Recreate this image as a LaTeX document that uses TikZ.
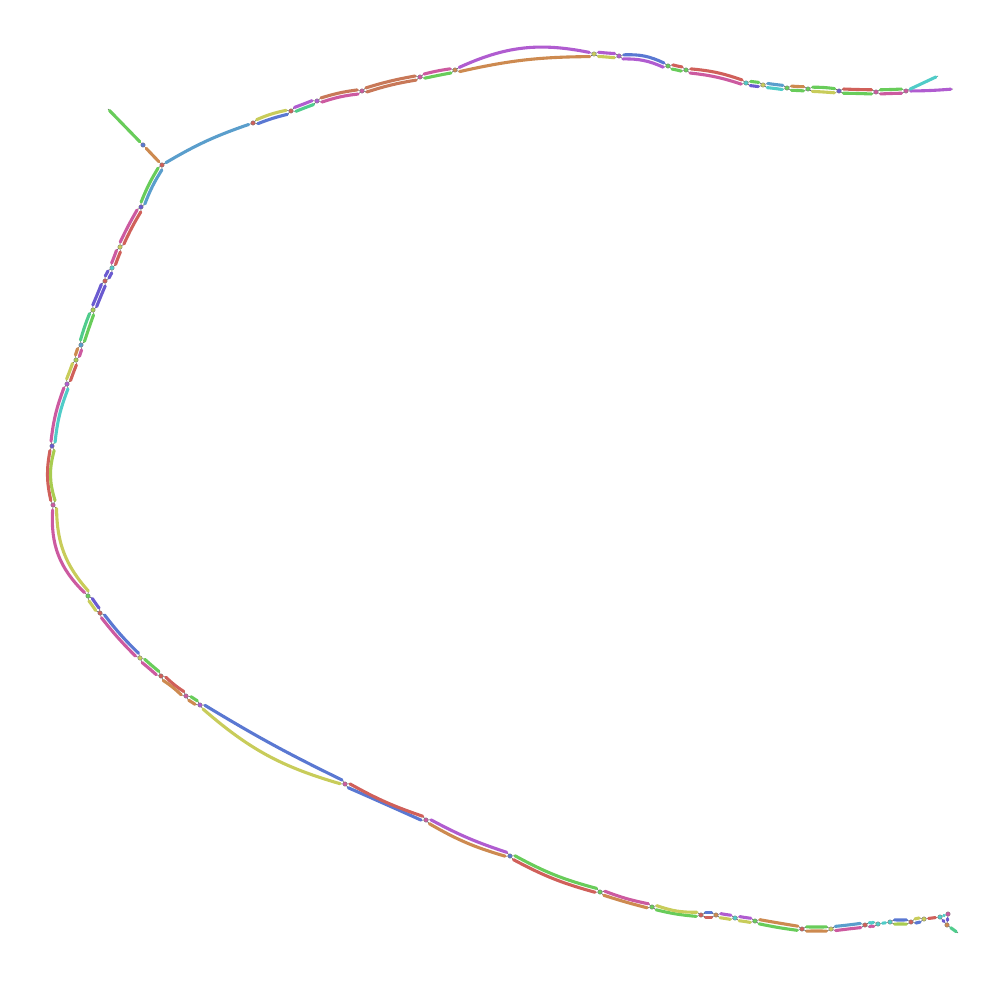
\documentclass[tikz,border=0pt]{standalone}
\usetikzlibrary{calc}
\definecolor{cR}{HTML}{D0605A}
\definecolor{cP}{HTML}{CC5AA0}
\definecolor{cM}{HTML}{B05CD0}
\definecolor{cV}{HTML}{6A5AD0}
\definecolor{cB}{HTML}{5A78D2}
\definecolor{cL}{HTML}{5A9ECC}
\definecolor{cC}{HTML}{50CCC8}
\definecolor{cT}{HTML}{50CC8C}
\definecolor{cG}{HTML}{68CC5A}
\definecolor{cY}{HTML}{C8CC5A}
\definecolor{cW}{HTML}{A8CC50}
\definecolor{cO}{HTML}{CD8A50}
\definecolor{cK}{HTML}{C87858}
\newdimen\bubdx \newdimen\bubdy
\newcommand\bubsetup[2]{%
 \pgfextractx{\bubdx}{\pgfpointdiff{\pgfpointanchor{#1}{center}}{\pgfpointanchor{#2}{center}}}%
 \pgfextracty{\bubdy}{\pgfpointdiff{\pgfpointanchor{#1}{center}}{\pgfpointanchor{#2}{center}}}%
 \pgfmathsetmacro\bubL{max(1,veclen(\bubdx,\bubdy))}}
\newcommand\bangle[3]{\pgfmathsetmacro#1{asin(max(-1,min(1,(#2)/(0.294*(\bubL-#3)))))}}
% one arc of a bubble: from, to, colour, end offset (right +), mid sag (right +)
\newcommand\barc[5]{%
 \bangle\angA{#5-(#4)}{9}%
 \coordinate (bs) at ($(#1)!4.5pt!(#2)!#4pt!-90:(#2)$);
 \coordinate (be) at ($(#2)!4.5pt!(#1)!#4pt!90:(#1)$);
 \draw[lead] (#1) -- (bs) (be) -- (#2);
 \draw[seg,#3] (bs) to[bend right=\angA] (be);}
\newcommand\bub[6]{%
 \bubsetup{#1}{#2}%
 \barc{#1}{#2}{#3}{2.1}{#5}%
 \barc{#1}{#2}{#4}{-2.1}{#6}}
\newcommand\one[4]{\bubsetup{#1}{#2}\bangle\angO{#4}{0}%
 \draw[lead] (#1) to[bend right=\angO] (#2);
 \draw[seg,#3,shorten <=2.2pt,shorten >=2.2pt] (#1) to[bend right=\angO] (#2);}
\begin{document}
\begin{tikzpicture}[x=1pt,y=-1pt,
  jn/.style={circle,inner sep=0pt,minimum size=4.5pt,draw=black!55,line width=0.3pt,fill=#1},
  seg/.style={line width=3.1pt,line cap=round},
  lead/.style={draw=black!70,line width=0.5pt}]
\useasboundingbox (0,0) rectangle (1006,981);
% junctions
\node[jn=cP] (n0) at (906,91) {};
\node[jn=cP] (n1) at (876,92) {};
\node[jn=cV] (n2) at (839,91) {};
\node[jn=cG] (n3) at (808,89) {};
\node[jn=cG] (n4) at (787,88) {};
\node[jn=cY] (n5) at (763,85) {};
\node[jn=cC] (n6) at (746,83) {};
\node[jn=cG] (n7) at (686,70) {};
\node[jn=cG] (n8) at (668,66) {};
\node[jn=cM] (n9) at (619,56) {};
\node[jn=cY] (n10) at (594,54) {};
\node[jn=cO] (n11) at (455,70) {};
\node[jn=cP] (n12) at (420,77) {};
\node[jn=cP] (n13) at (362,91) {};
\node[jn=cM] (n14) at (317,101) {};
\node[jn=cR] (n15) at (291,111) {};
\node[jn=cR] (n16) at (253,123) {};
\node[jn=cR] (n17) at (162,165) {};
\node[jn=cB] (nA) at (143,145) {};
\node[jn=cV] (n18) at (141,207) {};
\node[jn=cY] (n19) at (120,247) {};
\node[jn=cC] (n20) at (112,268) {};
\node[jn=cR] (n20b) at (105,281) {};
\node[jn=cW] (n21) at (93,310) {};
\node[jn=cL] (n22) at (81,345) {};
\node[jn=cW] (n23) at (76,360) {};
\node[jn=cM] (n24) at (67,384) {};
\node[jn=cV] (n25) at (52,446) {};
\node[jn=cP] (n26) at (53,505) {};
\node[jn=cG] (n27) at (88,596) {};
\node[jn=cR] (n28) at (100,613) {};
\node[jn=cY] (n29) at (140,658) {};
\node[jn=cR] (n30) at (161,676) {};
\node[jn=cP] (n31) at (186,696) {};
\node[jn=cM] (n32) at (200,705) {};
\node[jn=cP] (n33) at (345,784) {};
\node[jn=cP] (n34) at (426,820) {};
\node[jn=cB] (n35) at (510,856) {};
\node[jn=cG] (n36) at (600,892) {};
\node[jn=cG] (n37) at (652,907) {};
\node[jn=cR] (n38) at (701,915) {};
\node[jn=cO] (n39) at (716,915) {};
\node[jn=cC] (n40) at (735,918) {};
\node[jn=cG] (n41) at (755,921) {};
\node[jn=cR] (n42) at (802,929) {};
\node[jn=cY] (n43) at (831,929) {};
\node[jn=cR] (n44) at (865,925) {};
\node[jn=cC] (n45) at (878,924) {};
\node[jn=cC] (n46) at (890,922) {};
\node[jn=cR] (n47) at (911,922) {};
\node[jn=cY] (n48) at (924,919) {};
\node[jn=cC] (n49) at (940,917) {};
\node[jn=cP] (n50) at (948,914) {};
\node[jn=cO] (n51) at (947,925) {};
\coordinate (e1) at (953,89);
\coordinate (e2) at (938,76);
\coordinate (e3) at (108,109);
\coordinate (e4) at (958,933);
% tails
\one{n0}{e1}{cM}{0.5}
\one{n0}{e2}{cC}{0}
% top chain
\bub{n0}{n1}{cG}{cP}{2}{-2}
\bub{n1}{n2}{cR}{cG}{2}{-2}
\bub{n2}{n3}{cG}{cY}{2.5}{-2}
\bub{n3}{n4}{cO}{cG}{2}{-2}
\bub{n4}{n5}{cL}{cC}{2}{-2}
\bub{n5}{n6}{cG}{cV}{2}{-2}
\bub{n6}{n7}{cR}{cP}{4}{-0.5}
\bub{n7}{n8}{cR}{cG}{2}{-2}
\bub{n8}{n9}{cB}{cM}{5}{0.5}
\bub{n9}{n10}{cM}{cY}{2}{-2}
\bub{n10}{n11}{cM}{cO}{14}{2}
\bub{n11}{n12}{cP}{cG}{2.5}{-2}
\bub{n12}{n13}{cK}{cK}{3}{-1}
\bub{n13}{n14}{cK}{cP}{3}{-1}
\bub{n14}{n15}{cM}{cT}{2}{-2}
\bub{n15}{n16}{cY}{cB}{3}{-1.5}
\one{n16}{n17}{cL}{3}
\one{n17}{nA}{cO}{0}
\one{nA}{e3}{cG}{0}
% left side
\bub{n17}{n18}{cG}{cL}{3}{-1}
\bub{n18}{n19}{cP}{cR}{2.5}{-1.5}
\bub{n19}{n20}{cP}{cR}{2}{-2}
\bub{n20}{n20b}{cV}{cV}{2}{-2}
\bub{n20b}{n21}{cV}{cV}{2}{-2}
\bub{n21}{n22}{cT}{cG}{2.5}{-2}
\bub{n22}{n23}{cO}{cP}{2}{-2}
\bub{n23}{n24}{cY}{cR}{2}{-2}
\bub{n24}{n25}{cP}{cC}{4}{0}
\bub{n25}{n26}{cR}{cW}{5}{2}
\bub{n26}{n27}{cP}{cY}{13}{7}
\bub{n27}{n28}{cY}{cV}{2}{-2}
\bub{n28}{n29}{cP}{cB}{3}{-1}
\bub{n29}{n30}{cP}{cG}{2}{-2}
\bub{n30}{n31}{cO}{cR}{1.5}{-1.5}
\bub{n31}{n32}{cO}{cG}{2}{-2}
% bottom chain
\bub{n32}{n33}{cY}{cB}{12}{0}
\bub{n33}{n34}{cB}{cR}{2}{0}
\bub{n34}{n35}{cO}{cM}{5}{0}
\bub{n35}{n36}{cR}{cG}{5}{1}
\bub{n36}{n37}{cO}{cP}{2.5}{-1}
\bub{n37}{n38}{cG}{cY}{3}{0}
\bub{n38}{n39}{cR}{cB}{2}{-2}
\bub{n39}{n40}{cY}{cM}{2}{-2}
\bub{n40}{n41}{cY}{cM}{2}{-2}
\bub{n41}{n42}{cG}{cO}{2.5}{-2}
\bub{n42}{n43}{cO}{cG}{2}{-2}
\bub{n43}{n44}{cP}{cL}{2}{-2}
\bub{n44}{n45}{cP}{cC}{1.5}{-1.5}
\one{n45}{n46}{cC}{0}
\bub{n46}{n47}{cW}{cB}{2}{-2}
\bub{n47}{n48}{cB}{cY}{2}{-2}
\one{n48}{n49}{cR}{0}
\one{n49}{n50}{cC}{0}
\one{n50}{n51}{cV}{0}
\one{n49}{n51}{cV}{0}
\one{n51}{e4}{cT}{0}
\end{tikzpicture}
\end{document}
